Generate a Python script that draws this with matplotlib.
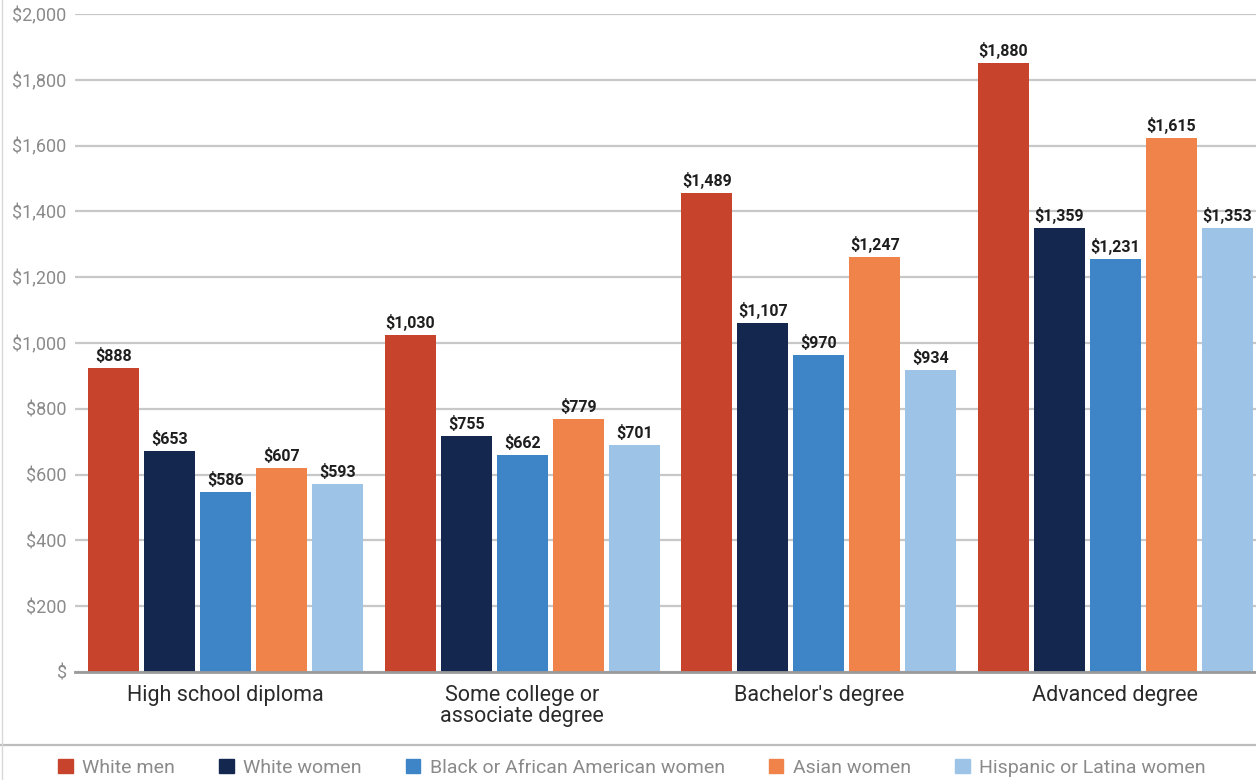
import matplotlib.pyplot as plt
from matplotlib.patches import Patch
import numpy as np

categories = ["High school diploma", "Some college or\nassociate degree",
              "Bachelor's degree", "Advanced degree"]
groups = ["White men", "White women", "Black or African American women",
          "Asian women", "Hispanic or Latina women"]
colors = ["#C8432B", "#14274E", "#3D85C6", "#F0834A", "#9DC3E6"]

# printed weekly earnings (labels) per group, one list per education level
labels = {
    "White men": [888, 1030, 1489, 1880],
    "White women": [653, 755, 1107, 1359],
    "Black or African American women": [586, 662, 970, 1231],
    "Asian women": [607, 779, 1247, 1615],
    "Hispanic or Latina women": [593, 701, 934, 1353],
}
# bar heights as drawn in the source graphic (slightly off from labels)
heights = {
    "White men": [924, 1024, 1456, 1851],
    "White women": [672, 717, 1061, 1350],
    "Black or African American women": [547, 660, 963, 1255],
    "Asian women": [620, 769, 1261, 1623],
    "Hispanic or Latina women": [571, 690, 918, 1350],
}
yticks = [0, 200, 400, 600, 800, 1000, 1200, 1400, 1600, 1800, 2000]

plt.rcParams['font.family'] = ['Roboto', 'DejaVu Sans']

fig = plt.figure(figsize=(12.56, 7.8), dpi=100)
ax = fig.add_axes([75 / 1256, 108 / 780, 1 - 75 / 1256, (672 - 14) / 780])

x = np.arange(len(categories))
pitch = 56 / 296.5
width = 51 / 296.5
for i, g in enumerate(groups):
    pos = x + (i - 2) * pitch
    bars = ax.bar(pos, heights[g], width=width, color=colors[i], zorder=3)
    for b, lab in zip(bars, labels[g]):
        ax.text(b.get_x() + b.get_width() / 2, b.get_height() + 12,
                f"${lab:,}", ha='center', va='bottom', fontsize=11.5,
                fontweight='bold', color='#1e1e1e', clip_on=False, zorder=4)

ax.set_xlim(-0.508, 3.475)
ax.set_ylim(0, 2000)
ax.set_yticks(yticks)
ax.set_yticklabels(["$" if v == 0 else f"${v:,}" for v in yticks],
                   fontsize=13, color='#8a8a8a')
ax.set_xticks(x)
ax.set_xticklabels(categories, fontsize=15.5, color='#2a2a2a', linespacing=1.05)
ax.tick_params(axis='both', length=0)
ax.tick_params(axis='y', pad=6)
ax.tick_params(axis='x', pad=9)
ax.grid(axis='y', color='#c8c8c8', linewidth=1.6, zorder=0)
for s in ['top', 'right', 'left']:
    ax.spines[s].set_visible(False)
ax.spines['bottom'].set_color('#9a9a9a')
ax.spines['bottom'].set_linewidth(2)
ax.spines['bottom'].set_zorder(5)

# separator line above legend and thin left border
fig.add_artist(plt.Line2D([0, 1], [35 / 780, 35 / 780], color='#bdbdbd', lw=1.6))
fig.add_artist(plt.Line2D([1.5 / 1256, 1.5 / 1256], [0, 1], color='#d8d8d8', lw=1))

handles = [Patch(color=c) for c in colors]
fig.legend(handles, groups, loc='center', bbox_to_anchor=(632 / 1256, 12 / 780),
           ncol=5, frameon=False, fontsize=14, labelcolor='#8a8a8a',
           handlelength=0.75, handleheight=0.75, handletextpad=0.5,
           columnspacing=2.25)

plt.savefig("out.png", dpi=100)
